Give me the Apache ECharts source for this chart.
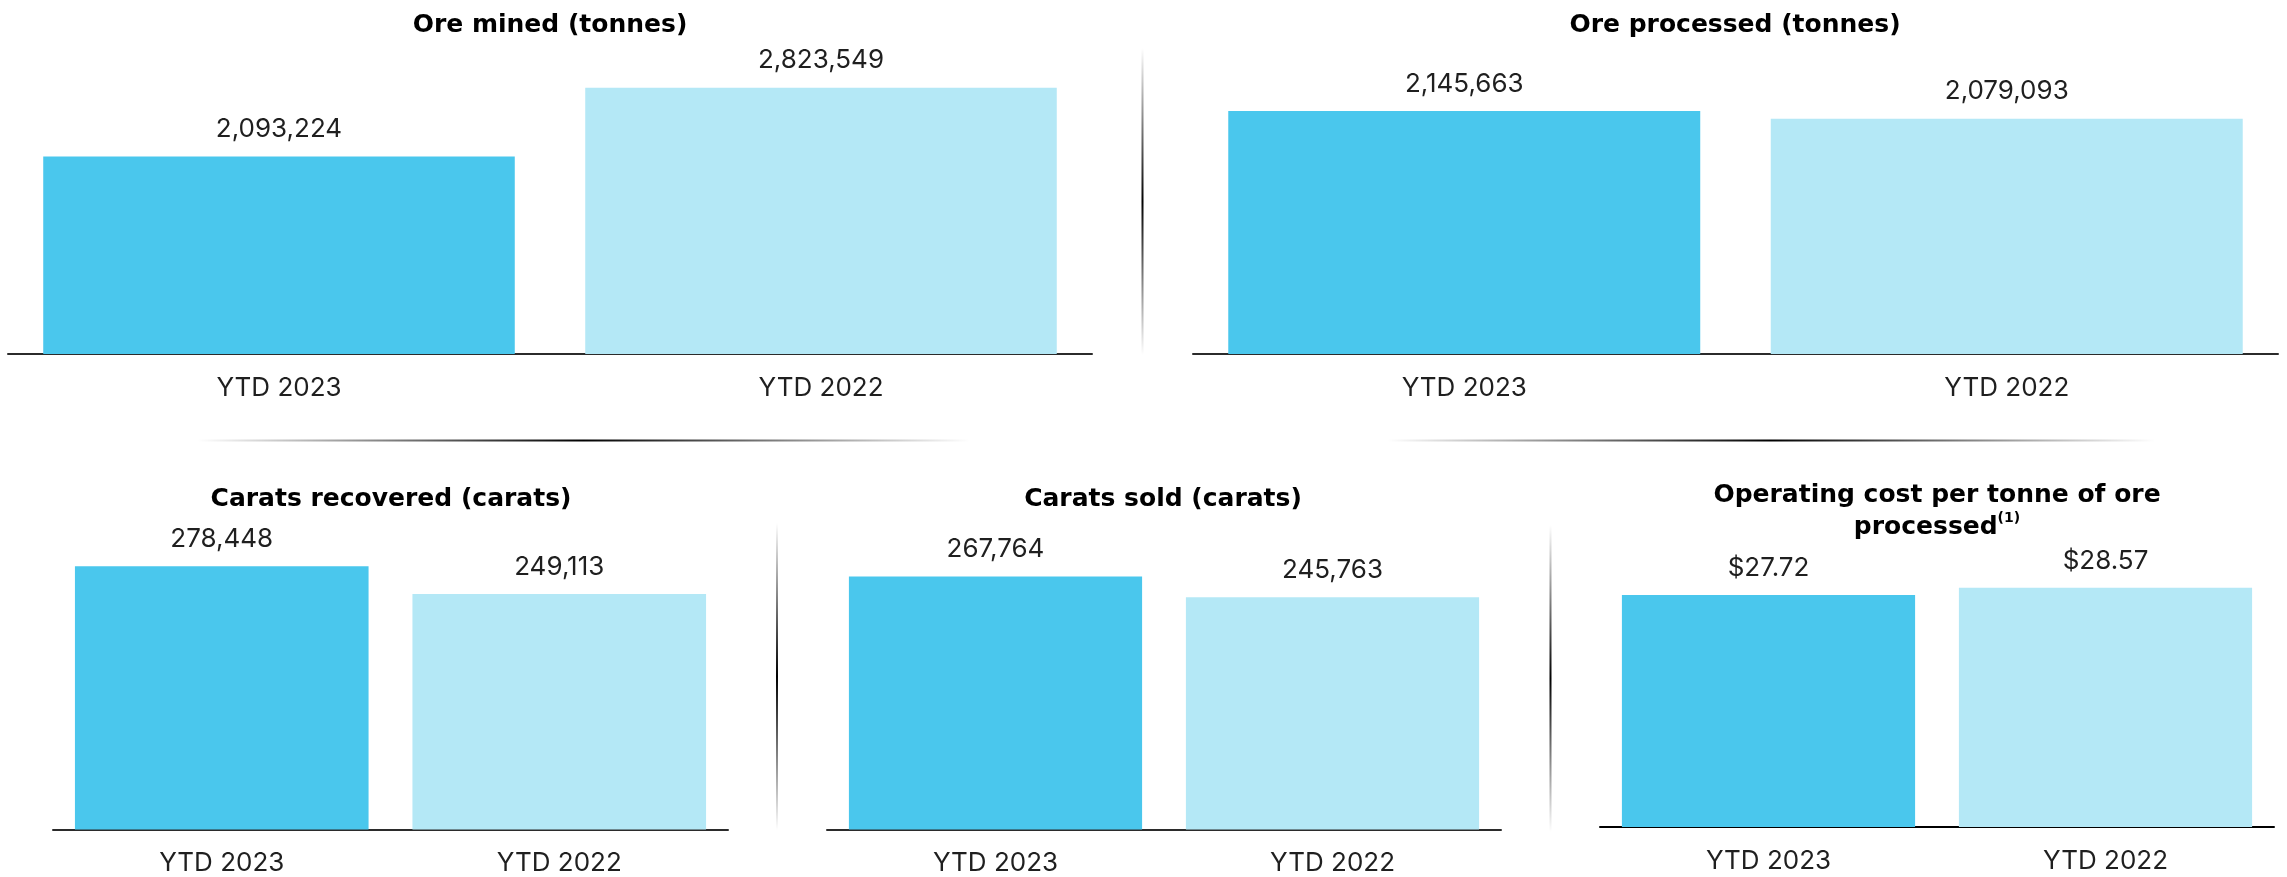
<!DOCTYPE html>
<html>
<head>
<meta charset="utf-8">
<title>Operations summary YTD</title>
<script src="https://cdn.jsdelivr.net/npm/echarts@6/dist/echarts.min.js"></script>
<style>
  html, body { margin: 0; padding: 0; background: #ffffff; }
  #chart { width: 2287px; height: 877px; }
</style>
</head>
<body>
<div id="chart"></div>
<script>
// Periods compared in every panel
const categories = ['YTD 2023', 'YTD 2022'];

// Panel values
const oreMined = [2093224, 2823549];
const oreProcessed = [2145663, 2079093];
const caratsRecovered = [278448, 249113];
const caratsSold = [267764, 245763];
const costPerTonne = [27.72, 28.57];

// Panel titles
const panelTitles = [
  'Ore mined (tonnes)',
  'Ore processed (tonnes)',
  'Carats recovered (carats)',
  'Carats sold (carats)',
  'Operating cost per tonne of ore\nprocessed{sup|(1)}'
];

const FONT = 'Inter, "Noto Sans", sans-serif';
const TITLE_FONT = '"DejaVu Sans", Inter, sans-serif';
const barColors = ['#4AC7ED', '#B4E8F6'];

const fmtCount = v => v.toLocaleString('en-US');
const fmtMoney = v => '$' + v.toFixed(2);

// Layout of each panel: plot area in pixels, axis ceiling, title anchor
const panels = [
  { data: oreMined,        fmt: fmtCount, left: 8,    width: 1084, top: 71,  height: 283,   max: 3000000, tx: 550,  ty: 9,   axisColor: '#2b2b2b' },
  { data: oreProcessed,    fmt: fmtCount, left: 1193, width: 1085, top: 71,  height: 283,   max: 2500000, tx: 1735, ty: 9,   axisColor: '#2b2b2b' },
  { data: caratsRecovered, fmt: fmtCount, left: 53,   width: 675,  top: 546, height: 283.5, max: 300000,  tx: 391,  ty: 483, axisColor: '#2b2b2b' },
  { data: caratsSold,      fmt: fmtCount, left: 827,  width: 674,  top: 546, height: 283.5, max: 300000,  tx: 1163, ty: 483, axisColor: '#2b2b2b' },
  { data: costPerTonne,    fmt: fmtMoney, left: 1600, width: 674,  top: 534, height: 293,   max: 35,      tx: 1937, ty: 479, axisColor: '#000000' }
];

const chart = echarts.init(document.getElementById('chart'), null, { renderer: 'canvas' });

const fade = (horizontal) => new echarts.graphic.LinearGradient(
  0, 0, horizontal ? 1 : 0, horizontal ? 0 : 1,
  [
    { offset: 0, color: 'rgba(0,0,0,0)' },
    { offset: 0.5, color: 'rgba(0,0,0,1)' },
    { offset: 1, color: 'rgba(0,0,0,0)' }
  ]
);

const option = {
  backgroundColor: '#ffffff',
  animation: false,
  title: panels.map((p, i) => ({
    text: panelTitles[i],
    left: p.tx,
    top: p.ty,
    textAlign: 'center',
    padding: 0,
    textStyle: {
      fontFamily: TITLE_FONT,
      fontSize: 25,
      fontWeight: 'bold',
      color: '#000000',
      lineHeight: 32,
      rich: {
        sup: {
          fontFamily: TITLE_FONT,
          fontSize: 14,
          fontWeight: 'bold',
          color: '#000000',
          verticalAlign: 'top',
          lineHeight: 32,
          padding: [0, 0, 14, 0]
        }
      }
    }
  })),
  grid: panels.map(p => ({
    left: p.left, width: p.width, top: p.top, height: p.height, containLabel: false
  })),
  xAxis: panels.map((p, i) => ({
    type: 'category',
    gridIndex: i,
    data: categories,
    axisLine: { show: true, lineStyle: { color: p.axisColor, width: 2 } },
    axisTick: { show: false },
    axisLabel: { margin: 21, fontFamily: FONT, fontSize: 26, color: '#1f1f1f' },
    splitLine: { show: false }
  })),
  yAxis: panels.map((p, i) => ({
    type: 'value',
    gridIndex: i,
    min: 0,
    max: p.max,
    show: false,
    splitLine: { show: false }
  })),
  series: panels.map((p, i) => ({
    type: 'bar',
    xAxisIndex: i,
    yAxisIndex: i,
    barWidth: '87%',
    data: p.data.map((v, j) => ({ value: v, itemStyle: { color: barColors[j] } })),
    label: {
      show: true,
      position: 'top',
      distance: 14,
      fontFamily: FONT,
      fontSize: 26,
      color: '#1f1f1f',
      formatter: params => p.fmt(params.value)
    }
  })),
  graphic: [
    // vertical divider between the two upper panels
    { type: 'rect', shape: { x: 1141.5, y: 48, width: 2, height: 307 }, style: { fill: fade(false) }, silent: true },
    // horizontal dividers between rows
    { type: 'rect', shape: { x: 197, y: 439.5, width: 773, height: 2 }, style: { fill: fade(true) }, silent: true },
    { type: 'rect', shape: { x: 1387, y: 439.5, width: 768, height: 2 }, style: { fill: fade(true) }, silent: true },
    // vertical dividers between the lower panels
    { type: 'rect', shape: { x: 776, y: 523, width: 2, height: 307 }, style: { fill: fade(false) }, silent: true },
    { type: 'rect', shape: { x: 1549.5, y: 525, width: 2, height: 307 }, style: { fill: fade(false) }, silent: true }
  ]
};

chart.setOption(option);
</script>
</body>
</html>
